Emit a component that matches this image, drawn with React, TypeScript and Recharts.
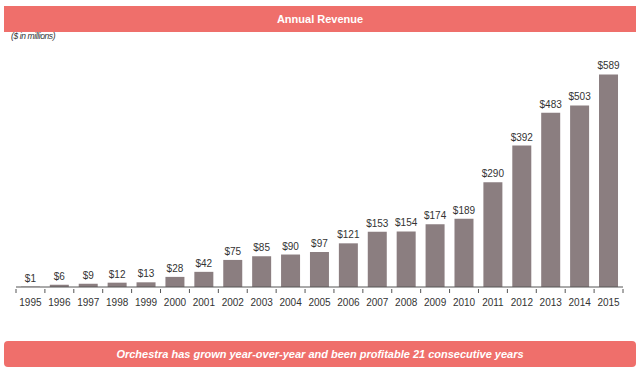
import React from "react";
import { BarChart, Bar, XAxis, YAxis, LabelList } from "recharts";

const years = ["1995","1996","1997","1998","1999","2000","2001","2002","2003","2004","2005","2006","2007","2008","2009","2010","2011","2012","2013","2014","2015"];
const revenue = [1, 6, 9, 12, 13, 28, 42, 75, 85, 90, 97, 121, 153, 154, 174, 189, 290, 392, 483, 503, 589];

const data = years.map((y, i) => ({ year: y, revenue: revenue[i] }));

const W = 640;
const H = 373;
const M = { top: 56, right: 17, bottom: 66, left: 16 };
const STEP = (W - M.left - M.right) / years.length;
const FONT = "'Liberation Sans', Arial, sans-serif";
const BANNER = "#EF6F6B";

const YearTick = (props: any) => {
  const { x, y, payload, index } = props;
  const half = STEP / 2;
  return (
    <g>
      <line x1={x - half} y1={y} x2={x - half} y2={y + 4} stroke="#555" strokeWidth={1} />
      {index === years.length - 1 && (
        <line x1={x + half} y1={y} x2={x + half} y2={y + 4} stroke="#555" strokeWidth={1} />
      )}
      <text x={x} y={y + 13} textAnchor="middle" dominantBaseline="central" fontSize={10} fill="#333" fontFamily={FONT}>
        {payload.value}
      </text>
    </g>
  );
};

export default function App() {
  return (
    <div style={{ position: "absolute", left: 0, top: 0, width: W, height: H, background: "#fff", fontFamily: FONT }}>
      <div style={{ position: "absolute", left: 4, top: 6, width: 632, height: 26, background: BANNER, color: "#fff", fontWeight: "bold", fontSize: 11, lineHeight: "26px", textAlign: "center" }}>
        Annual Revenue
      </div>
      <div style={{ position: "absolute", left: 11, top: 31, fontSize: 8.5, fontStyle: "italic", color: "#333", letterSpacing: "-0.4px" }}>
        ($ in millions)
      </div>
      <div style={{ position: "absolute", left: 0, top: 0 }}>
        <BarChart width={W} height={H} data={data} margin={M} barCategoryGap="17%">
          <YAxis hide domain={[0, 640]} />
          <XAxis dataKey="year" interval={0} tickSize={0} tickLine={false} height={20} axisLine={{ stroke: "#555", strokeWidth: 1 }} tick={<YearTick />} />
          <Bar dataKey="revenue" fill="#8B7E80" isAnimationActive={false}>
            <LabelList dataKey="revenue" position="top" formatter={(v: any) => `$${v}`} fontSize={10} fill="#333" fontFamily={FONT} />
          </Bar>
        </BarChart>
      </div>
      <div style={{ position: "absolute", left: 4, top: 341, width: 632, height: 26, borderRadius: 4, background: BANNER, color: "#fff", fontWeight: "bold", fontStyle: "italic", fontSize: 11, lineHeight: "26px", textAlign: "center" }}>
        Orchestra has grown year-over-year and been profitable 21 consecutive years
      </div>
    </div>
  );
}
